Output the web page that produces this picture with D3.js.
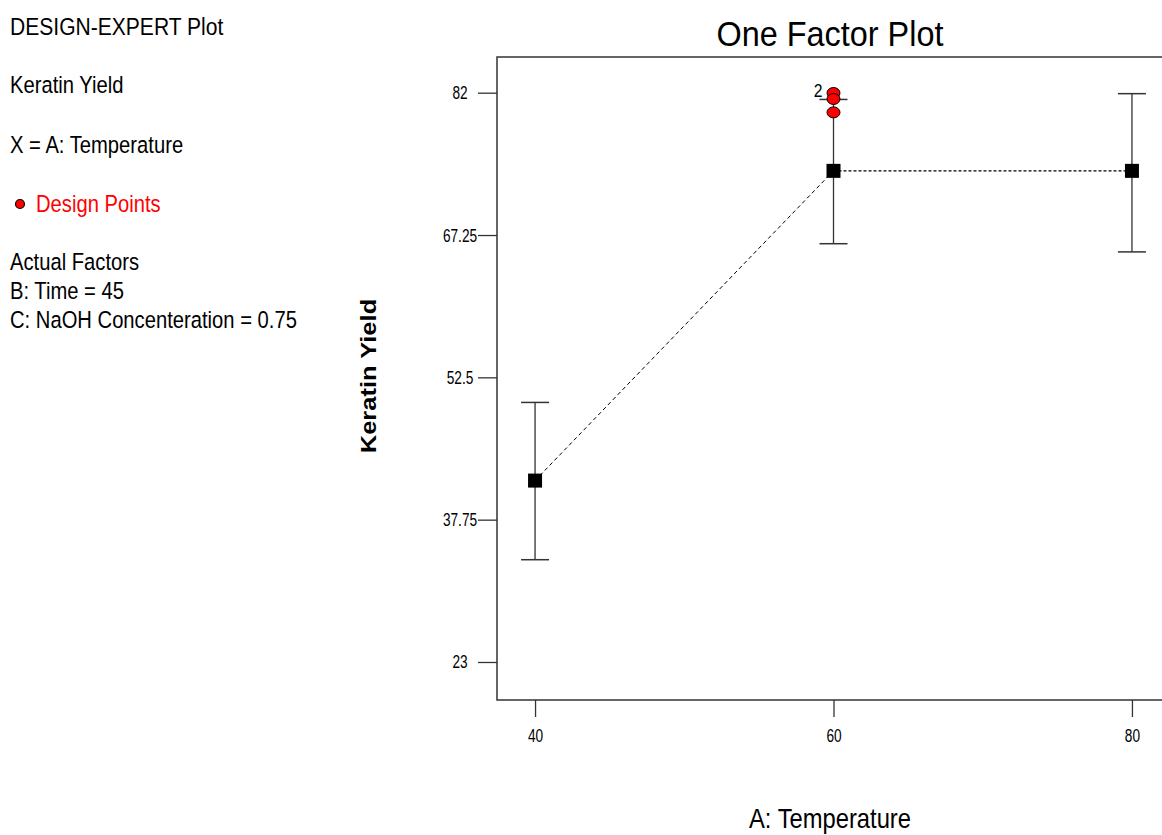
<!DOCTYPE html>
<html>
<head>
<meta charset="utf-8">
<script src="https://cdn.jsdelivr.net/npm/d3@7"></script>
<style>
  body { margin: 0; background: #fff; }
  svg { display: block; font-family: "Liberation Sans", Arial, sans-serif; }
</style>
</head>
<body>
<svg id="chart" width="1162" height="835"></svg>
<script>
// Factor levels (A: Temperature) and predicted keratin yield with interval bounds
const temperatures = [40, 60, 80];
const predicted = [41.8, 73.9, 73.9];
const intervalLow = [33.6, 66.35, 65.5];
const intervalHigh = [49.9, 81.3, 81.9];

// Observed design points at the centre level
const designTemps = [60, 60, 60];
const designYields = [81.97, 81.35, 79.96];
const designCountLabel = "2";

const yTicks = [23, 37.75, 52.5, 67.25, 82];
const xTicks = [40, 60, 80];

const infoLines = [
  { text: "DESIGN-EXPERT Plot", y: 35, color: "#000" },
  { text: "Keratin Yield", y: 93, color: "#000" },
  { text: "X = A: Temperature", y: 153, color: "#000" },
  { text: "Design Points", y: 212, color: "#ff0000", marker: true },
  { text: "Actual Factors", y: 270, color: "#000" },
  { text: "B: Time = 45", y: 299, color: "#000" },
  { text: "C: NaOH Concenteration = 0.75", y: 328, color: "#000" }
];

const svg = d3.select("#chart");
const plot = { left: 497, top: 57, right: 1170, bottom: 700 };

const x = d3.scaleLinear().domain([37.45, 82.55]).range([plot.left, plot.right]);
const y = d3.scaleLinear().domain([19.06, 85.7]).range([plot.bottom, plot.top]);

// Text squeezed horizontally, narrow-style lettering
function narrowText(parent, tx, ty, str, size, sx, anchor) {
  return parent.append("text")
    .attr("transform", `translate(${tx},${ty}) scale(${sx},1)`)
    .attr("text-anchor", anchor || "start")
    .attr("font-size", size)
    .text(str);
}

// Side panel text
const info = svg.append("g");
infoLines.forEach(d => {
  const tx = d.marker ? 36 : 10;
  const size = d.y < 40 ? 24.5 : 23.5;
  narrowText(info, tx, d.y, d.text, size, 0.86).attr("fill", d.color);
  if (d.marker) {
    info.append("circle").attr("cx", 20).attr("cy", d.y - 8).attr("r", 4.5)
      .attr("fill", "#ff0000").attr("stroke", "#000").attr("stroke-width", 1.2);
  }
});

// Title
narrowText(svg, 830, 46, "One Factor Plot", 36, 0.9, "middle");

// Frame
svg.append("rect")
  .attr("x", plot.left).attr("y", plot.top)
  .attr("width", plot.right - plot.left).attr("height", plot.bottom - plot.top)
  .attr("fill", "none").attr("stroke", "#333").attr("stroke-width", 1.5);

// Axes
const yAxis = svg.append("g").attr("transform", `translate(${plot.left},0)`)
  .call(d3.axisLeft(y).tickValues(yTicks).tickSize(19).tickPadding(0)
    .tickFormat(d => String(d)));
const xAxis = svg.append("g").attr("transform", `translate(0,${plot.bottom})`)
  .call(d3.axisBottom(x).tickValues(xTicks).tickSize(17).tickPadding(0)
    .tickFormat(d3.format("d")));
[yAxis, xAxis].forEach(g => {
  g.select(".domain").remove();
  g.selectAll(".tick line").attr("stroke", "#333").attr("stroke-width", 1.3);
});
yAxis.selectAll(".tick text")
  .attr("x", null).attr("dy", null)
  .attr("text-anchor", "middle")
  .attr("font-size", 19).attr("fill", "#000")
  .attr("transform", "translate(-37,6) scale(0.72,1)");
xAxis.selectAll(".tick text")
  .attr("y", null).attr("dy", null)
  .attr("text-anchor", "middle")
  .attr("font-size", 19).attr("fill", "#000")
  .attr("transform", "translate(0,42) scale(0.72,1)");

// Axis titles
narrowText(svg, 830, 828, "A: Temperature", 27, 0.88, "middle");
svg.append("text")
  .attr("transform", `translate(376,376) rotate(-90) scale(1,0.85)`)
  .attr("text-anchor", "middle").attr("font-size", 25.5).attr("font-weight", "bold")
  .text("Keratin Yield");

// Prediction line: dashed between first two levels, dotted afterwards
const pts = temperatures.map((t, i) => [x(t), y(predicted[i])]);
svg.append("line")
  .attr("x1", pts[0][0]).attr("y1", pts[0][1]).attr("x2", pts[1][0]).attr("y2", pts[1][1])
  .attr("stroke", "#000").attr("stroke-width", 1).attr("stroke-dasharray", "4,3");
svg.append("line")
  .attr("x1", pts[1][0]).attr("y1", pts[1][1]).attr("x2", pts[2][0]).attr("y2", pts[2][1])
  .attr("stroke", "#000").attr("stroke-width", 1.2).attr("stroke-dasharray", "3,2");

// Interval bars
const bars = svg.append("g");
temperatures.forEach((t, i) => {
  const cx = x(t);
  bars.append("line").attr("x1", cx).attr("x2", cx)
    .attr("y1", y(intervalHigh[i])).attr("y2", y(intervalLow[i]))
    .attr("stroke", "#333").attr("stroke-width", 1.3);
  [intervalHigh[i], intervalLow[i]].forEach(v => {
    bars.append("line").attr("x1", cx - 14).attr("x2", cx + 14)
      .attr("y1", y(v)).attr("y2", y(v))
      .attr("stroke", "#333").attr("stroke-width", 1.5);
  });
});

// Design points
svg.append("g").selectAll("ellipse")
  .data(designYields.map((v, i) => [designTemps[i], v]))
  .join("ellipse")
  .attr("cx", d => x(d[0])).attr("cy", d => y(d[1]))
  .attr("rx", 6.5).attr("ry", 5.5)
  .attr("fill", "#ff0000").attr("stroke", "#000").attr("stroke-width", 1);
narrowText(svg, x(designTemps[0]) - 11, y(designYields[0]) + 4, designCountLabel, 18.5, 0.85, "end");

// Predicted means
svg.append("g").selectAll("rect")
  .data(temperatures.map((t, i) => [t, predicted[i]]))
  .join("rect")
  .attr("x", d => x(d[0]) - 7).attr("y", d => y(d[1]) - 7)
  .attr("width", 14).attr("height", 14).attr("fill", "#000");
</script>
</body>
</html>
